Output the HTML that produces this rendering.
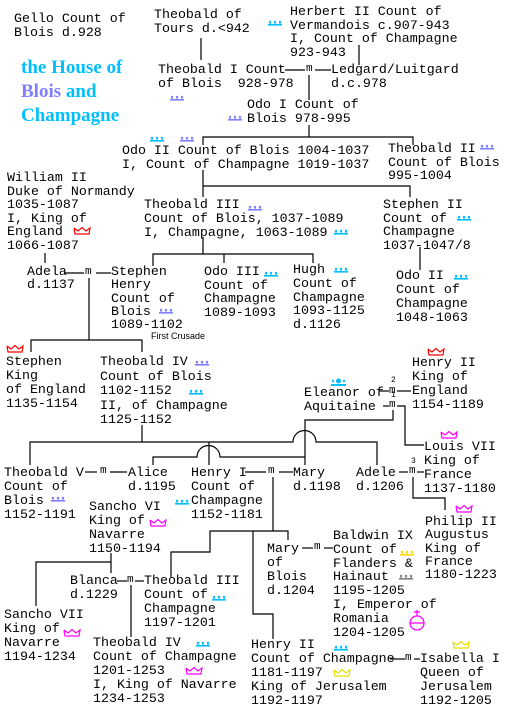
<!DOCTYPE html>
<html><head><meta charset="utf-8"><style>
html,body{margin:0;padding:0;background:#fff;}
body{width:506px;height:710px;position:relative;overflow:hidden;}
.t{position:absolute;font-family:"Liberation Mono",monospace;font-size:13.3px;line-height:14px;white-space:pre;color:#000;padding-top:1px;}
.m{position:absolute;font-family:"Liberation Mono",monospace;font-size:11px;line-height:11px;color:#000;}
.s{position:absolute;font-family:"Liberation Mono",monospace;font-size:8px;line-height:8px;color:#000;}
svg{position:absolute;left:0;top:0;}
.title{position:absolute;left:21px;top:56px;font-family:"Liberation Serif",serif;font-weight:bold;font-size:19px;line-height:24px;color:#00bfff;white-space:pre;}
</style></head><body>
<svg width="506" height="710" viewBox="0 0 506 710">
<defs>
<g id="co"><rect x="0" y="4" width="14" height="1.6"/><circle cx="2" cy="2" r="1.2"/><circle cx="7" cy="2" r="1.2"/><circle cx="12" cy="2" r="1.2"/><rect x="1.4" y="2" width="1.2" height="3"/><rect x="6.4" y="2" width="1.2" height="3"/><rect x="11.4" y="2" width="1.2" height="3"/></g>
<g id="cr"><polyline points="1,1 5,4 9,0.5 13,4 17,1 16,7 2,7 1,1" fill="none" stroke-width="1.2"/></g>
</defs>
<g stroke="#000" stroke-width="1.2" fill="none">
<line x1="201" y1="38" x2="201" y2="60"/>
<line x1="359" y1="45" x2="359" y2="65"/>
<line x1="285" y1="70" x2="305" y2="70"/><line x1="315" y1="70" x2="331" y2="70"/>
<line x1="309" y1="75" x2="309" y2="100"/>
<line x1="309" y1="125" x2="309" y2="137"/>
<polyline points="203,145 203,137 413,137 413,145"/>
<line x1="203" y1="170" x2="203" y2="197"/>
<polyline points="203,186 410,186 410,197"/>
<line x1="203" y1="237" x2="203" y2="254"/>
<polyline points="153,266 153,254 313,254 313,263"/>
<line x1="224" y1="254" x2="224" y2="263"/>
<line x1="420" y1="247" x2="420" y2="270"/>
<line x1="45" y1="253" x2="45" y2="263"/>
<line x1="64" y1="273" x2="84" y2="273"/><line x1="96" y1="273" x2="111" y2="273"/>
<line x1="89" y1="278" x2="89" y2="340"/>
<polyline points="31,352 31,340 142,340 142,352"/>
<line x1="379" y1="391" x2="389" y2="391"/><line x1="397" y1="391" x2="411" y2="391"/>
<line x1="383" y1="406" x2="389" y2="406"/>
<polyline points="397,406 405,406 405,445 424,445"/>
<polyline points="393,410 393,420 305,420 305,465"/>
<line x1="142" y1="425" x2="142" y2="442"/>
<path d="M30,465 V442 H293 A11.5,11.5 0 0 1 316,442 H377 V465"/>
<line x1="209" y1="442" x2="209" y2="465"/>
<path d="M153,465 V457 H197 A11.5,11.5 0 0 1 220,457 H305"/>
<line x1="85" y1="472" x2="97" y2="472"/><line x1="110" y1="472" x2="127" y2="472"/>
<line x1="245" y1="472" x2="266" y2="472"/><line x1="279" y1="472" x2="293" y2="472"/>
<line x1="399" y1="472" x2="408" y2="472"/><line x1="417" y1="472" x2="424" y2="472"/>
<line x1="273" y1="477" x2="273" y2="531"/>
<polyline points="171,577 171,552 210,552 210,531 288,531 288,540"/>
<polyline points="253,531 253,614 273,614 273,639"/>
<polyline points="413,477 413,498 445,498 445,510"/>
<polyline points="111,553 111,573"/>
<polyline points="36,606 36,562 111,562"/>
<line x1="117" y1="581" x2="127" y2="581"/><line x1="135" y1="581" x2="144" y2="581"/>
<line x1="131" y1="585" x2="131" y2="637"/>
<line x1="302" y1="548" x2="313" y2="548"/><line x1="324" y1="548" x2="333" y2="548"/>
<line x1="390" y1="659" x2="405" y2="659"/><line x1="414" y1="659" x2="420" y2="659"/>
</g>
<g fill="#00bfff"><use href="#co" x="268" y="20"/><use href="#co" x="150" y="136"/><use href="#co" x="334" y="229"/><use href="#co" x="457" y="215"/><use href="#co" x="264" y="271"/><use href="#co" x="334" y="267"/><use href="#co" x="454" y="274"/><use href="#co" x="189" y="389"/><use href="#co" x="175" y="499"/><use href="#co" x="212" y="595"/><use href="#co" x="196" y="641"/><use href="#co" x="334" y="645"/></g>
<g fill="#8080ff"><use href="#co" x="170" y="95"/><use href="#co" x="228" y="115"/><use href="#co" x="180" y="136"/><use href="#co" x="480" y="144"/><use href="#co" x="248" y="205"/><use href="#co" x="159" y="308"/><use href="#co" x="195" y="360"/><use href="#co" x="51" y="496"/></g>
<g fill="#ffd800"><use href="#co" x="400" y="550"/></g>
<g fill="#808080"><use href="#co" x="399" y="574"/></g>
<g stroke="#ff0000"><use href="#cr" x="73" y="227"/><use href="#cr" x="6" y="345"/><use href="#cr" x="427" y="348"/></g>
<g stroke="#ff00ff"><use href="#cr" x="440" y="431"/><use href="#cr" x="149" y="519"/><use href="#cr" x="455" y="505"/><use href="#cr" x="63" y="629"/><use href="#cr" x="185" y="667"/></g>
<g stroke="#e8e000"><use href="#cr" x="333" y="669"/><use href="#cr" x="452" y="641"/></g>
<g fill="#00bfff"><rect x="331" y="384" width="15" height="2"/><circle cx="338.5" cy="381" r="2.5"/><circle cx="333" cy="381" r="1.2"/><circle cx="344" cy="381" r="1.2"/></g>
<g stroke="#ff00ff" stroke-width="1.3" fill="none"><circle cx="417" cy="623" r="7"/><line x1="417" y1="610" x2="417" y2="616"/><line x1="414" y1="612" x2="420" y2="612"/><line x1="410" y1="623" x2="424" y2="623"/></g>
</svg>
<div class="title">the House of
<span style="color:#8080ff">Blois</span> and
Champagne</div>
<div class="t" style="left:14px;top:11px">Gello Count of
Blois d.928</div>
<div class="t" style="left:154px;top:7px">Theobald of
Tours d.&lt;942</div>
<div class="t" style="left:290px;top:4px;line-height:13.5px">Herbert II Count of
Vermandois c.907-943
I, Count of Champagne
923-943</div>
<div class="t" style="left:158px;top:62px">Theobald I Count
of Blois  928-978</div>
<div class="m" style="left:306px;top:64px">m</div>
<div class="t" style="left:331px;top:62px">Ledgard/Luitgard
d.c.978</div>
<div class="t" style="left:247px;top:97px">Odo I Count of
Blois 978-995</div>
<div class="t" style="left:122px;top:143px">Odo II Count of Blois 1004-1037
I, Count of Champagne 1019-1037</div>
<div class="t" style="left:388px;top:141px;line-height:13.5px">Theobald II
Count of Blois
995-1004</div>
<div class="t" style="left:7px;top:170px;line-height:13.5px">William II
Duke of Normandy
1035-1087
I, King of
England
1066-1087</div>
<div class="t" style="left:144px;top:197px">Theobald III
Count of Blois, 1037-1089
I, Champagne, 1063-1089</div>
<div class="t" style="left:383px;top:197px;line-height:13.5px">Stephen II
Count of
Champagne
1037-1047/8</div>
<div class="t" style="left:27px;top:264px;line-height:13.3px">Adela
d.1137</div>
<div class="m" style="left:85px;top:267px">m</div>
<div class="t" style="left:111px;top:264px;line-height:13.3px">Stephen
Henry
Count of
Blois
1089-1102</div>
<div style="position:absolute;left:151px;top:331px;font-family:'Liberation Sans',sans-serif;font-size:9px;line-height:10px">First Crusade</div>
<div class="t" style="left:204px;top:264px;line-height:13.5px">Odo III
Count of
Champagne
1089-1093</div>
<div class="t" style="left:293px;top:262px;line-height:13.8px">Hugh
Count of
Champagne
1093-1125
d.1126</div>
<div class="t" style="left:396px;top:268px;line-height:14px">Odo II
Count of
Champagne
1048-1063</div>
<div class="t" style="left:6px;top:354px">Stephen
King
of England
1135-1154</div>
<div class="t" style="left:100px;top:354px;line-height:14.5px">Theobald IV
Count of Blois
1102-1152
II, of Champagne
1125-1152</div>
<div class="t" style="left:412px;top:355px">Henry II
King of
England
1154-1189</div>
<div class="t" style="left:304px;top:385px">Eleanor of
Aquitaine</div>
<div class="m" style="left:389px;top:386px">m</div><div class="s" style="left:391px;top:377px">2</div>
<div class="m" style="left:389px;top:400px">m</div><div class="s" style="left:391px;top:392px">1</div>
<div class="t" style="left:424px;top:439px">Louis VII
King of
France
1137-1180</div>
<div class="t" style="left:4px;top:465px">Theobald V
Count of
Blois
1152-1191</div>
<div class="m" style="left:100px;top:466px">m</div>
<div class="t" style="left:128px;top:465px">Alice
d.1195</div>
<div class="t" style="left:191px;top:465px">Henry I
Count of
Champagne
1152-1181</div>
<div class="m" style="left:268px;top:466px">m</div>
<div class="t" style="left:293px;top:465px">Mary
d.1198</div>
<div class="t" style="left:356px;top:465px">Adele
d.1206</div>
<div class="m" style="left:409px;top:466px">m</div><div class="s" style="left:411px;top:458px">3</div>
<div class="t" style="left:89px;top:499px">Sancho VI
King of
Navarre
1150-1194</div>
<div class="t" style="left:425px;top:514px;line-height:13.3px">Philip II
Augustus
King of
France
1180-1223</div>
<div class="t" style="left:267px;top:541px">Mary
of
Blois
d.1204</div>
<div class="m" style="left:314px;top:542px">m</div>
<div class="t" style="left:333px;top:528px;line-height:13.8px">Baldwin IX
Count of
Flanders &amp;
Hainaut
1195-1205
I, Emperor of
Romania
1204-1205</div>
<div class="t" style="left:70px;top:573px">Blanca
d.1229</div>
<div class="m" style="left:127px;top:575px">m</div>
<div class="t" style="left:144px;top:573px">Theobald III
Count of
Champagne
1197-1201</div>
<div class="t" style="left:4px;top:607px">Sancho VII
King of
Navarre
1194-1234</div>
<div class="t" style="left:93px;top:635px">Theobald IV
Count of Champagne
1201-1253
I, King of Navarre
1234-1253</div>
<div class="t" style="left:251px;top:637px">Henry II
Count of Champagne
1181-1197
King of Jerusalem
1192-1197</div>
<div class="m" style="left:405px;top:653px">m</div>
<div class="t" style="left:420px;top:651px">Isabella I
Queen of
Jerusalem
1192-1205</div>
</body></html>
